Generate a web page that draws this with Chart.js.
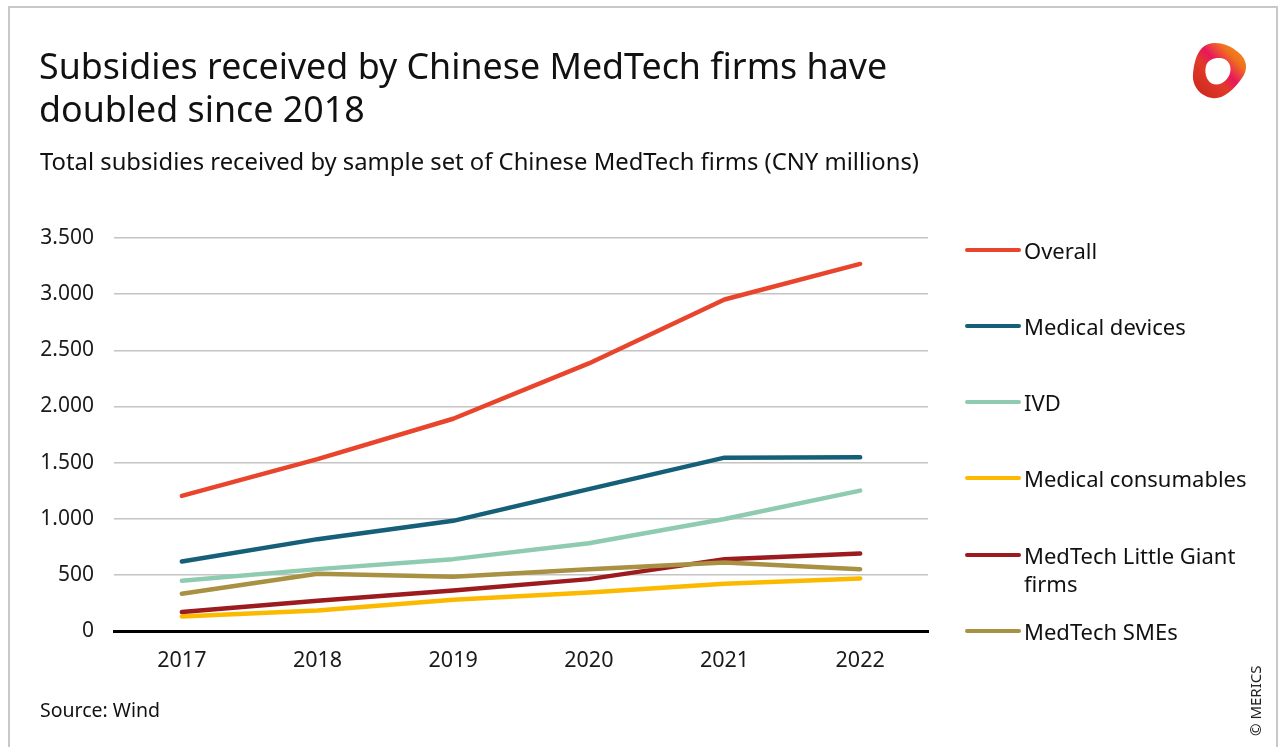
<!DOCTYPE html>
<html>
<head>
<meta charset="utf-8">
<script src="https://cdn.jsdelivr.net/npm/chart.js@4.4.1/dist/chart.umd.min.js"></script>
<style>
  html, body { margin:0; padding:0; background:#fff; }
  body { width:1285px; height:747px; position:relative; overflow:hidden; font-family:"Noto Sans", sans-serif; color:#1a1a1a; }
  #frame { position:absolute; left:8px; top:6px; width:1270px; height:760px; border:2px solid #c8c8c8; border-bottom:none; box-sizing:border-box; }
  #chartWrap { position:absolute; left:0; top:0; width:1285px; height:747px; }
  .title { position:absolute; left:39px; top:44px; font-size:35.8px; line-height:43px; font-weight:400; color:#111; }
  .subtitle { position:absolute; left:40px; top:146px; font-size:23.8px; line-height:30px; color:#111; }
  .source { position:absolute; left:40px; top:697px; font-size:19.5px; line-height:26px; color:#111; }
  .merics { position:absolute; left:1246px; top:736px; font-size:15px; line-height:18px; transform-origin:0 0; transform:rotate(-90deg); white-space:nowrap; color:#222; }
  .leg { position:absolute; left:965px; font-size:22px; line-height:28px; color:#111; }
  .leg .sw { position:absolute; left:0; top:12px; width:56px; height:4px; border-radius:2px; }
  .leg .tx { position:absolute; left:59px; top:0; white-space:nowrap; }
  #logo { position:absolute; left:1186px; top:38px; }
</style>
</head>
<body>
<div id="frame"></div>
<div id="chartWrap"><canvas id="c" width="1285" height="747"></canvas></div>
<div class="title">Subsidies received by Chinese MedTech firms have<br>doubled since 2018</div>
<div class="subtitle">Total subsidies received by sample set of Chinese MedTech firms (CNY millions)</div>
<div class="source">Source: Wind</div>
<div class="merics">© MERICS</div>
<div id="legend"></div>
<svg id="logo" width="66" height="66" viewBox="0 0 66 66">
  <defs>
    <linearGradient id="g1" x1="0" y1="1" x2="1" y2="0">
      <stop offset="0" stop-color="#c8241c"/>
      <stop offset="0.4" stop-color="#e23a2a"/>
      <stop offset="0.55" stop-color="#e8175d"/>
      <stop offset="0.75" stop-color="#f0701e"/>
      <stop offset="1" stop-color="#f39a1c"/>
    </linearGradient>
  </defs>
  <path fill="url(#g1)" fill-rule="evenodd" d="M16 10 C24 2 40 4 52 14 C62 22 62 32 56 40 C48 52 36 62 26 60 C14 58 6 48 7 36 C8 26 10 16 16 10 Z M20 28 C22 20 34 18 40 22 C46 26 46 36 40 42 C34 48 26 48 22 42 C19 37 19 32 20 28 Z"/>
</svg>
<script>
const categories = ["2017", "2018", "2019", "2020", "2021", "2022"];
const seriesNames = ["Overall", "Medical devices", "IVD", "Medical consumables", "MedTech Little Giant firms", "MedTech SMEs"];
const overall = [1203, 1530, 1890, 2383, 2952, 3269];
const medicalDevices = [619, 818, 981, 1263, 1544, 1548];
const ivd = [447, 551, 640, 782, 998, 1250];
const medicalConsumables = [130, 183, 278, 343, 421, 468];
const littleGiant = [169, 269, 361, 462, 640, 690];
const smes = [332, 510, 483, 551, 610, 551];
const yTicks = [0, 500, 1000, 1500, 2000, 2500, 3000, 3500];

const seriesValues = [overall, medicalDevices, ivd, medicalConsumables, littleGiant, smes];
const colors = ["#e8452c", "#165f78", "#8fcbb0", "#fbba00", "#9b1b1e", "#a89142"];
const legendTops = [236, 312, 388, 464, 541, 617];
const legendLabels = [["Overall"], ["Medical devices"], ["IVD"], ["Medical consumables"], ["MedTech Little Giant", "firms"], ["MedTech SMEs"]];

const legendEl = document.getElementById('legend');
legendLabels.forEach((lines, i) => {
  const d = document.createElement('div');
  d.className = 'leg';
  d.style.top = legendTops[i] + 'px';
  d.innerHTML = '<div class="sw" style="background:' + colors[i] + '"></div><div class="tx">' + lines.join('<br>') + '</div>';
  legendEl.appendChild(d);
});

function fmt(v) {
  return String(v).replace(/\B(?=(\d{3})+(?!\d))/g, '.');
}

new Chart(document.getElementById('c'), {
  type: 'line',
  data: {
    labels: categories,
    datasets: seriesNames.map((name, i) => ({
      label: name,
      data: seriesValues[i],
      borderColor: colors[i],
      backgroundColor: colors[i],
      borderWidth: 4.5,
      pointRadius: 0,
      tension: 0,
      borderCapStyle: 'round',
      borderJoinStyle: 'round',
      fill: false,
      order: seriesNames.length - i
    }))
  },
  options: {
    responsive: false,
    animation: false,
    events: [],
    layout: { padding: { left: 0, top: 238, right: 357, bottom: 0 } },
    plugins: { legend: { display: false }, tooltip: { enabled: false }, title: { display: false } },
    scales: {
      x: {
        type: 'category',
        offset: true,
        grid: { display: false, drawTicks: false },
        border: { display: true, color: '#000', width: 3 },
        ticks: { padding: 17, color: '#1a1a1a', font: { family: 'Noto Sans', size: 21.5 }, maxRotation: 0 },
        afterFit: (s) => { s.height = 116; }
      },
      y: {
        min: 0, max: 3500,
        afterBuildTicks: (s) => { s.ticks = yTicks.map(v => ({ value: v })); },
        grid: { color: '#c4c4c4', lineWidth: 1.5, drawTicks: false },
        border: { display: false },
        ticks: { padding: 20, color: '#1a1a1a', font: { family: 'Noto Sans', size: 21 }, callback: (v) => fmt(v) },
        afterFit: (s) => { s.width = 114; }
      }
    }
  }
});
</script>
</body>
</html>
